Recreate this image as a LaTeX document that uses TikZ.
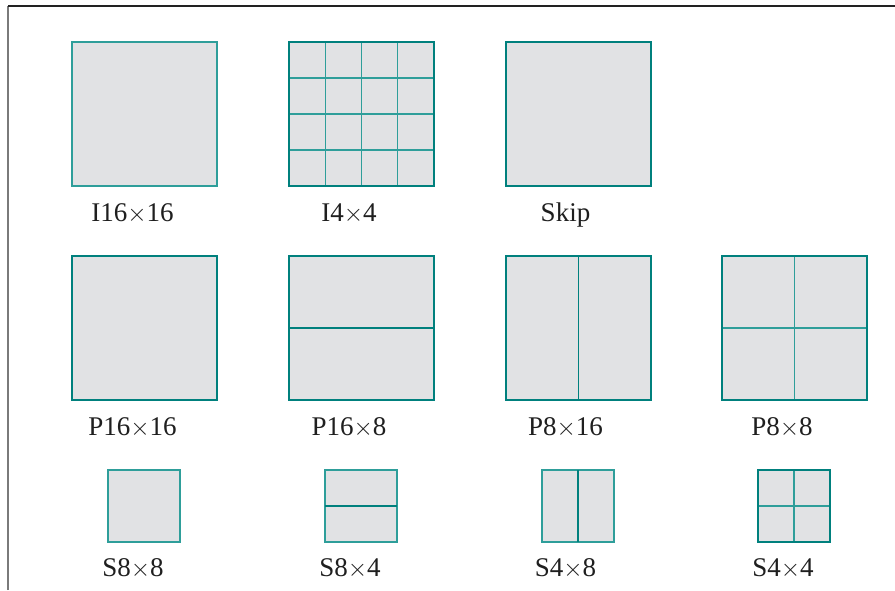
\documentclass[tikz,border=0pt]{standalone}
\usepackage{fontspec}
\setmainfont{Liberation Serif}
\usetikzlibrary{calc}
\definecolor{tealD}{HTML}{00807D}
\definecolor{tealL}{HTML}{2E9E9A}
\definecolor{blockfill}{HTML}{E1E2E4}
\definecolor{frameL}{HTML}{7A7A7A}
\definecolor{frameT}{HTML}{222222}
\newcommand{\bx}{\ensuremath{\times}}
\begin{document}
\begin{tikzpicture}[x=1pt,y=-1pt,
  blk/.style={draw=tealD, fill=blockfill, line width=1.8pt, inner sep=0pt, outer sep=0pt, anchor=north west},
  thinblk/.style={blk, draw=tealL, line width=1.3pt},
  bigsq/.style={minimum width=145pt, minimum height=144pt},
  smsq/.style={minimum width=72pt, minimum height=72pt},
  split/.style={draw=tealL, line width=1.3pt},
  halfsplit/.style={draw=tealD, line width=1.6pt},
  lbl/.style={anchor=base, inner sep=0pt, font=\fontsize{27}{32}\selectfont, text=black!88}]
\useasboundingbox (0,0) rectangle (895,590);
% frame
\coordinate (ftl) at (8,6);
\coordinate (ftr) at (895,6);
\coordinate (fbl) at (8,590);
\draw[frameL, line width=1.6pt] (fbl) -- (ftl);
\draw[frameT, line width=1.4pt] (ftl) -- (ftr);
% row 1
\node[thinblk, bigsq] (i16) at (72,42) {};
\node[blk, bigsq] (i4) at (289,42) {};
\foreach \f in {0.25,0.5,0.75}{
  \draw[split] ($(i4.north west)!\f!(i4.north east)$) -- ($(i4.south west)!\f!(i4.south east)$);
  \draw[split] ($(i4.north west)!\f!(i4.south west)$) -- ($(i4.north east)!\f!(i4.south east)$);
}
\draw[tealD, line width=1.8pt] (i4.north west) rectangle (i4.south east);
\node[blk, bigsq] (skip) at (506,42) {};
\node[lbl] (li16) at (132.5,221) {I16\bx16};
\node[lbl] (li4) at (349,221) {I4\bx4};
\node[lbl] (lskip) at (565.5,221) {Skip};
% row 2
\node[blk, bigsq] (p1616) at (72,256) {};
\node[blk, bigsq] (p168) at (289,256) {};
\draw[halfsplit] (p168.west) -- (p168.east);
\node[blk, bigsq] (p816) at (506,256) {};
\draw[halfsplit] (p816.north) -- (p816.south);
\node[blk, bigsq] (p88) at (722,256) {};
\draw[split] (p88.north) -- (p88.south);
\draw[split] (p88.west) -- (p88.east);
\draw[tealD, line width=1.8pt] (p88.north west) rectangle (p88.south east);
\node[lbl] (lp1616) at (132.5,435) {P16\bx16};
\node[lbl] (lp168) at (349,435) {P16\bx8};
\node[lbl] (lp816) at (565.5,435) {P8\bx16};
\node[lbl] (lp88) at (782,435) {P8\bx8};
% row 3
\node[thinblk, smsq] (s88) at (108,470) {};
\node[thinblk, smsq] (s84) at (325,470) {};
\draw[halfsplit] (s84.west) -- (s84.east);
\node[thinblk, smsq] (s48) at (542,470) {};
\draw[halfsplit] (s48.north) -- (s48.south);
\node[blk, smsq] (s44) at (758,470) {};
\draw[split] (s44.north) -- (s44.south);
\draw[split] (s44.west) -- (s44.east);
\draw[tealD, line width=1.8pt] (s44.north west) rectangle (s44.south east);
\node[lbl] (ls88) at (133,576) {S8\bx8};
\node[lbl] (ls84) at (350,576) {S8\bx4};
\node[lbl] (ls48) at (565.5,576) {S4\bx8};
\node[lbl] (ls44) at (783,576) {S4\bx4};
\end{tikzpicture}
\end{document}
